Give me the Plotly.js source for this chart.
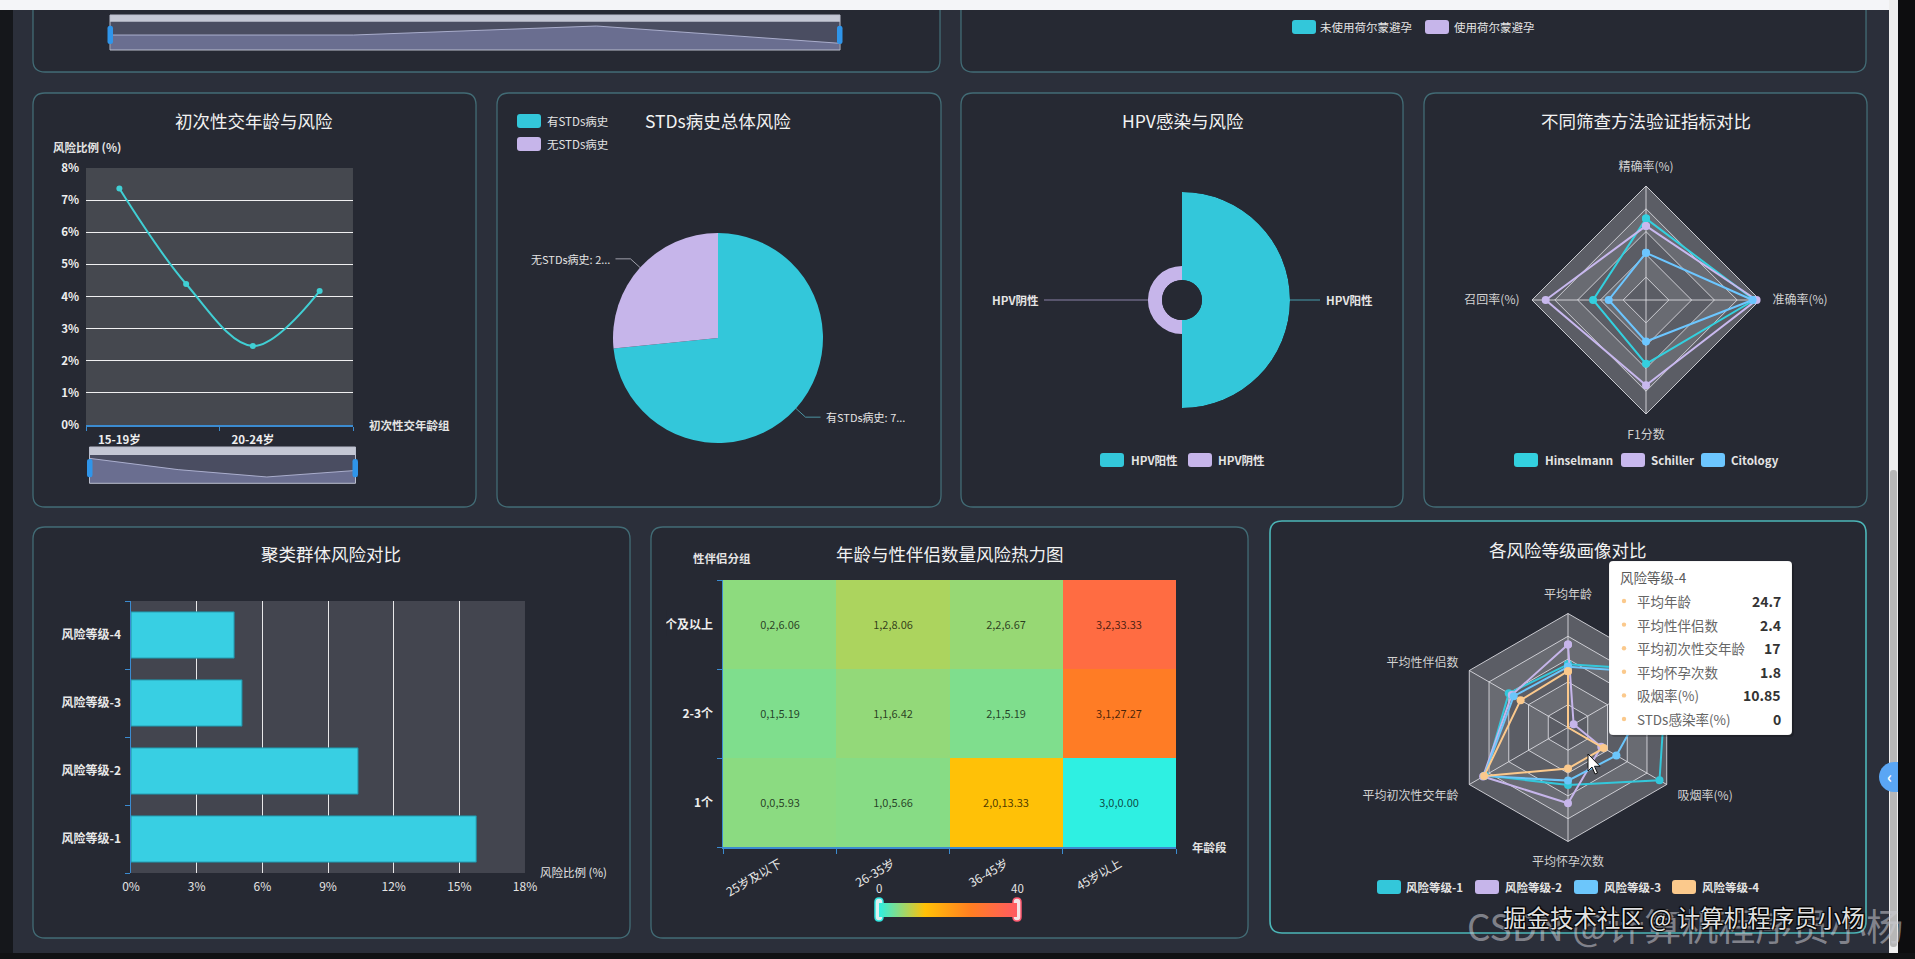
<!DOCTYPE html>
<html>
<head>
<meta charset="utf-8">
<script src="https://cdn.plot.ly/plotly-3.0.1.min.js"></script>
<style>
  html, body { margin: 0; padding: 0; background: #2b2f3a; overflow: hidden; }
  #dash { width: 1915px; height: 959px; }
</style>
</head>
<body>
<div id="dash"></div>
<script>
// ---------------- data ----------------
const firstSexGroups = ['15-19岁', '15岁以下', '20-24岁', '25岁及以上'];
const firstSexRisk = [7.36, 4.39, 2.46, 4.17];

const contraceptionLegend = ['未使用荷尔蒙避孕', '使用荷尔蒙避孕'];
const contraceptionOverview = [3.0, 3.0, 4.8, 1.35];

const stdsLabels = ['有STDs病史', '无STDs病史'];
const stdsShare = [73.4, 26.6];

const hpvLabels = ['HPV阳性', 'HPV阴性'];
const hpvRisk = [25.0, 4.0];

const screenMetrics = ['精确率(%)', '召回率(%)', 'F1分数', '准确率(%)'];
const screenMethods = ['Hinselmann', 'Schiller', 'Citology'];
const hinselmannScores = [71.4, 46.4, 56.0, 95.0];
const schillerScores = [65.0, 88.0, 74.8, 97.0];
const citologyScores = [41.4, 32.7, 36.4, 93.5];

const clusterLevels = ['风险等级-1', '风险等级-2', '风险等级-3', '风险等级-4'];
const clusterRisk = [15.77, 10.37, 5.07, 4.71];

const ageGroups = ['25岁及以下', '26-35岁', '36-45岁', '45岁以上'];
const partnerGroups = ['1个', '2-3个', '3个及以上'];
const riskOnePartner = [5.93, 5.66, 13.33, 0.00];
const riskTwoThreePartners = [5.19, 6.42, 5.19, 27.27];
const riskThreePlusPartners = [6.06, 8.06, 6.67, 33.33];

const profileAxes = ['平均年龄', '平均性伴侣数', '平均初次性交年龄', '平均怀孕次数', '吸烟率(%)', 'STDs感染率(%)'];
const profileMax = [50, 5, 20, 5, 30, 100];
const level1Profile = [27.7, 3.0, 16.8, 2.52, 27.8, 100];
const level2Profile = [36.4, 2.85, 17.2, 3.32, 10.1, 5.7];
const level3Profile = [26.6, 2.75, 17.0, 2.33, 14.7, 95];
const level4Profile = [24.7, 2.4, 17, 1.8, 10.85, 0];

// ---------------- helpers ----------------
const FONT = '"Noto Sans CJK SC", "Noto Sans", sans-serif';
const W = 1915, H = 959;
const fx = x => x / W;
const fy = y => 1 - y / H;
const xDom = (a, b) => [a / W, b / W];
const yDom = (top, bottom) => [1 - bottom / H, 1 - top / H];
const pt = (x, y) => fx(x).toFixed(6) + ',' + fy(y).toFixed(6);

const TEAL = '#33c7da', PURPLE = '#c6b5ea', SKY = '#6cc6fb', PEACH = '#fbc98c';
const AXIS_BLUE = '#3b8bd0';

const shapes = [];
const annotations = [];
const traces = [];

function rrPath(x0, y0, x1, y1, r) {
  return 'M' + pt(x0 + r, y0) + ' L' + pt(x1 - r, y0) + ' Q' + pt(x1, y0) + ' ' + pt(x1, y0 + r) +
    ' L' + pt(x1, y1 - r) + ' Q' + pt(x1, y1) + ' ' + pt(x1 - r, y1) +
    ' L' + pt(x0 + r, y1) + ' Q' + pt(x0, y1) + ' ' + pt(x0, y1 - r) +
    ' L' + pt(x0, y0 + r) + ' Q' + pt(x0, y0) + ' ' + pt(x0 + r, y0) + ' Z';
}
function box(x0, y0, x1, y1, r, fill, stroke, lw, layer) {
  shapes.push({
    type: 'path', xref: 'paper', yref: 'paper', path: rrPath(x0, y0, x1, y1, r),
    fillcolor: fill, line: { color: stroke || 'rgba(0,0,0,0)', width: lw || 0 }, layer: layer || 'below'
  });
}
function polyline(points, color, width, layer) {
  shapes.push({
    type: 'path', xref: 'paper', yref: 'paper',
    path: 'M' + points.map(p => pt(p[0], p[1])).join(' L'),
    fillcolor: 'rgba(0,0,0,0)', line: { color, width }, layer: layer || 'below'
  });
}
function dot(x, y, r, color, layer) {
  shapes.push({
    type: 'circle', xref: 'paper', yref: 'paper', x0: fx(x - r), x1: fx(x + r), y0: fy(y + r), y1: fy(y - r),
    fillcolor: color, line: { width: 0 }, layer: layer || 'above'
  });
}
function text(x, y, s, o) {
  o = o || {};
  const font = { family: FONT, size: o.size || 12, color: o.color || '#e4e4e4', weight: o.weight || 400 };
  if (o.shadow) font.shadow = o.shadow;
  annotations.push({
    xref: 'paper', yref: 'paper', x: fx(x), y: fy(y), text: s, showarrow: false,
    xanchor: o.anchor || 'center', yanchor: 'middle', font, borderpad: 0
  });
}
function title(x, y, s) { text(x, y, s, { size: 17.5, color: '#f2f2f2' }); }
function legendIcon(x0, yc, color) { box(x0, yc - 7, x0 + 24, yc + 7, 3, color, null, 0, 'below'); }

// ---------------- page frame ----------------
const PANEL_FILL = '#262933';
const PANEL_LINE = 'rgba(88,160,170,0.55)';
[
  [33, -30, 940, 72], [961, -30, 1866, 72],
  [33, 93, 476, 507], [497, 93, 941, 507], [961, 93, 1403, 507], [1424, 93, 1867, 507],
  [33, 527, 630, 938], [651, 527, 1248, 938]
].forEach(p => box(p[0], p[1], p[2], p[3], 12, PANEL_FILL, PANEL_LINE, 1.3));
box(1270, 521, 1866, 933, 12, PANEL_FILL, '#4cb6b8', 1.6);

// ---------------- top strip: overview slider + legend ----------------
function overviewSlider(x0, x1, yTop, yBar, yBottom) {
  box(x0, yTop, x1, yBottom, 0, '#4a4d61', null, 0, 'below');
  box(x0, yTop, x1, yBar, 0, '#c4c7d4', null, 0, 'above');
  shapes.push({ type: 'rect', xref: 'paper', yref: 'paper', x0: fx(x0), x1: fx(x1), y0: fy(yBottom), y1: fy(yTop),
    fillcolor: 'rgba(0,0,0,0)', line: { color: '#b9bdcc', width: 1 }, layer: 'above' });
  const hTop = yBar + 4, hBot = yBottom - 6;
  box(x0 - 2.5, hTop, x0 + 3, hBot, 2.5, '#2f95ea', null, 0, 'above');
  box(x1 - 3, hTop, x1 + 2.5, hBot, 2.5, '#2f95ea', null, 0, 'above');
}
overviewSlider(110, 840, 15, 21.7, 50);
traces.push({
  type: 'scatter', xaxis: 'x3', yaxis: 'y3', x: contraceptionOverview.map((_, i) => i), y: contraceptionOverview,
  mode: 'lines', line: { color: 'rgba(190,194,225,0.8)', width: 1 }, fill: 'tozeroy',
  fillcolor: 'rgba(118,122,160,0.75)', hoverinfo: 'skip'
});
legendIcon(1292, 27, TEAL);
text(1319, 27, contraceptionLegend[0], { anchor: 'left', size: 11.5 });
legendIcon(1425, 27, PURPLE);
text(1453, 27, contraceptionLegend[1], { anchor: 'left', size: 11.5 });

// ---------------- panel 1: line chart ----------------
title(254, 120, '初次性交年龄与风险');
box(86, 168, 353, 425, 0, '#45484f', null, 0, 'below');
text(52, 147, '风险比例 (%)', { anchor: 'left', size: 11.5, weight: 700 });
text(368, 425, '初次性交年龄组', { anchor: 'left', size: 11.5, weight: 700 });
const firstSexIdx = firstSexGroups.map((_, i) => i);
traces.push({
  type: 'scatter', xaxis: 'x', yaxis: 'y', x: firstSexIdx, y: firstSexRisk, mode: 'lines+markers',
  line: { shape: 'spline', smoothing: 1, color: '#40cfd4', width: 2 },
  marker: { size: 6, color: '#40cfd4' }, hoverinfo: 'skip'
});
overviewSlider(89.5, 355.5, 447, 455, 483.3);
traces.push({
  type: 'scatter', xaxis: 'x2', yaxis: 'y2', x: firstSexIdx, y: firstSexRisk, mode: 'lines',
  line: { color: 'rgba(190,194,225,0.8)', width: 1 }, fill: 'tozeroy',
  fillcolor: 'rgba(118,122,160,0.75)', hoverinfo: 'skip'
});

// ---------------- panel 2: pie ----------------
title(718, 120, 'STDs病史总体风险');
const stdsColors = [TEAL, PURPLE];
stdsLabels.forEach((name, i) => {
  legendIcon(517, 121 + i * 23, stdsColors[i]);
  text(546, 121 + i * 23, name, { anchor: 'left', size: 11.5 });
});
const PIE = { cx: 718, cy: 338, r: 105 };
traces.push({
  type: 'pie', labels: stdsLabels, values: stdsShare, sort: false, direction: 'clockwise', rotation: 0,
  marker: { colors: stdsColors, line: { width: 0 } }, textinfo: 'none', hoverinfo: 'skip',
  domain: { x: xDom(PIE.cx - PIE.r, PIE.cx + PIE.r), y: yDom(PIE.cy - PIE.r, PIE.cy + PIE.r) }
});
(function pieLabels() {
  const total = stdsShare.reduce((a, b) => a + b, 0);
  let start = 90;
  stdsLabels.forEach((name, i) => {
    const sweep = stdsShare[i] / total * 360;
    const mid = (start - sweep / 2) * Math.PI / 180;
    start -= sweep;
    const ex = PIE.cx + PIE.r * Math.cos(mid), ey = PIE.cy - PIE.r * Math.sin(mid);
    const bx = PIE.cx + (PIE.r + 13) * Math.cos(mid), by = PIE.cy - (PIE.r + 13) * Math.sin(mid);
    const dir = Math.cos(mid) >= 0 ? 1 : -1;
    const tx = bx + dir * 15;
    polyline([[ex, ey], [bx, by], [tx, by]], dir > 0 ? 'rgba(80,160,175,0.9)' : 'rgba(190,190,200,0.8)', 1);
    text(tx + dir * 4, by, name + ': ' + String(stdsShare[i]).charAt(0) + '...',
      { anchor: dir > 0 ? 'left' : 'right', size: 11 });
  });
})();

// ---------------- panel 3: HPV rose ----------------
title(1183, 120, 'HPV感染与风险');
const ROSE = { cx: 1182, cy: 300, r: 108, hole: 20 };
traces.push({
  type: 'barpolar', subplot: 'polar', r: hpvRisk, theta: [0, 180], width: [180, 180],
  marker: { color: [TEAL, PURPLE], line: { width: 0 } }, hoverinfo: 'skip'
});
(function roseLabels() {
  const vmax = Math.max(...hpvRisk);
  const outer = hpvRisk.map(v => ROSE.hole + v / vmax * (ROSE.r - ROSE.hole));
  polyline([[ROSE.cx + outer[0], ROSE.cy], [1320, ROSE.cy]], 'rgba(70,150,165,0.9)', 1.2);
  text(1325, ROSE.cy, hpvLabels[0], { anchor: 'left', size: 11.5, weight: 700 });
  polyline([[ROSE.cx - outer[1], ROSE.cy], [1044, ROSE.cy]], 'rgba(150,140,180,0.9)', 1.2);
  text(1040, ROSE.cy, hpvLabels[1], { anchor: 'right', size: 11.5, weight: 700 });
})();
legendIcon(1100, 460, TEAL);
text(1130, 460, hpvLabels[0], { anchor: 'left', size: 11.5, weight: 700 });
legendIcon(1188, 460, PURPLE);
text(1217, 460, hpvLabels[1], { anchor: 'left', size: 11.5, weight: 700 });

// ---------------- radar helper ----------------
const RINGS = 5;
function radarGrid(subplot, axes, bandA, bandB) {
  const closed = axes.concat([axes[0]]);
  for (let k = RINGS; k >= 1; k--) {
    traces.push({
      type: 'scatterpolar', subplot, theta: closed, r: closed.map(() => k / RINGS), mode: 'lines',
      fill: 'toself', fillcolor: k % 2 ? bandA : bandB, line: { color: 'rgba(225,225,230,0.85)', width: 1 },
      hoverinfo: 'skip'
    });
  }
  const th = [], rr = [];
  axes.forEach(a => { th.push(a, a, a); rr.push(0, 1, null); });
  traces.push({ type: 'scatterpolar', subplot, theta: th, r: rr, mode: 'lines',
    line: { color: 'rgba(225,225,230,0.85)', width: 1 }, hoverinfo: 'skip' });
}
function radarSeries(subplot, axes, values, maxes, color) {
  const closed = axes.concat([axes[0]]);
  const r = values.map((v, i) => v / maxes[i]);
  traces.push({
    type: 'scatterpolar', subplot, theta: closed, r: r.concat([r[0]]), mode: 'lines+markers',
    line: { color, width: 2 }, marker: { size: 8, color }, hoverinfo: 'skip'
  });
}

// ---------------- panel 4: screening radar ----------------
title(1646, 120, '不同筛查方法验证指标对比');
radarGrid('polar2', screenMetrics, '#5b5d65', '#696b72');
const screenColors = ['#33d0df', '#c8b8ee', '#6cc6ff'];
const screenMax = screenMetrics.map(() => 100);
[hinselmannScores, schillerScores, citologyScores].forEach((s, i) =>
  radarSeries('polar2', screenMetrics, s, screenMax, screenColors[i]));
[[1514, 1544], [1621, 1650], [1701, 1730]].forEach((p, i) => {
  legendIcon(p[0], 460, screenColors[i]);
  text(p[1], 460, screenMethods[i], { anchor: 'left', size: 11.5, weight: 700 });
});

// ---------------- panel 5: cluster bars ----------------
title(331, 553, '聚类群体风险对比');
box(131, 601, 525, 873, 0, '#43454f', null, 0, 'below');
traces.push({
  type: 'bar', orientation: 'h', xaxis: 'x4', yaxis: 'y4', y: clusterLevels.map((_, i) => i), x: clusterRisk,
  width: 0.68, marker: { color: '#38cfe3', line: { color: '#2191a6', width: 1 } }, hoverinfo: 'skip'
});
text(539, 872, '风险比例 (%)', { anchor: 'left', size: 11.5 });

// ---------------- panel 6: heatmap ----------------
title(950, 553, '年龄与性伴侣数量风险热力图');
text(722, 558, '性伴侣分组', { size: 11.5, weight: 700 });
text(1191, 847, '年龄段', { anchor: 'left', size: 11.5, weight: 700 });
const heatScale = [[0, '#2ef0e2'], [1 / 3, '#ffc107'], [2 / 3, '#ff7e22'], [1, '#ff5a62']];
const riskGrid = [riskOnePartner, riskTwoThreePartners, riskThreePlusPartners];
// each cell reads "column index, row index, risk"
const cellText = riskGrid.map((row, yi) => row.map((v, xi) => xi + ',' + yi + ',' + v.toFixed(2)));
traces.push({
  type: 'heatmap', xaxis: 'x5', yaxis: 'y5',
  x: ageGroups.map((_, i) => i), y: partnerGroups.map((_, i) => i),
  z: riskGrid, text: cellText,
  zmin: 0, zmax: 40, colorscale: heatScale, xgap: 0, ygap: 0,
  texttemplate: '%{text}', textfont: { family: FONT, size: 11, color: 'rgba(0,0,0,0.72)' },
  hoverinfo: 'skip',
  colorbar: {
    orientation: 'h', x: fx(948), xanchor: 'center', y: fy(909.5), yanchor: 'middle',
    len: 138, lenmode: 'pixels', thickness: 14, thicknessmode: 'pixels', outlinewidth: 0,
    showticklabels: false, ticks: '', xpad: 0, ypad: 0
  }
});
box(875, 898, 883, 921, 4, 'rgba(230,252,252,0.95)', '#2ee6e0', 1.5, 'above');
box(1013, 898, 1021, 921, 4, 'rgba(255,236,238,0.95)', '#ff5a70', 1.5, 'above');
text(879, 888, '0', { size: 11.5 });
text(1017, 888, '40', { size: 11.5 });
// clip the row label at the chart canvas edge
shapes.push({ type: 'rect', xref: 'paper', yref: 'paper', x0: fx(652.5), x1: fx(666.3), y0: fy(636), y1: fy(610),
  fillcolor: PANEL_FILL, line: { width: 0 }, layer: 'above' });

// ---------------- panel 7: profile radar ----------------
title(1568, 549, '各风险等级画像对比');
radarGrid('polar3', profileAxes, '#5b5d65', '#696b72');
const levelColors = [TEAL, PURPLE, SKY, PEACH];
[level1Profile, level2Profile, level3Profile, level4Profile].forEach((s, i) =>
  radarSeries('polar3', profileAxes, s, profileMax, levelColors[i]));
[[1377, 1405], [1475, 1504], [1574, 1603], [1672, 1701]].forEach((p, i) => {
  legendIcon(p[0], 887, levelColors[i]);
  text(p[1], 887, clusterLevels[i], { anchor: 'left', size: 11.5, weight: 700 });
});
// hover card for 风险等级-4
box(1611, 563, 1794, 737, 4, 'rgba(0,0,0,0.18)', null, 0, 'above');
box(1609, 561, 1792, 735, 4, '#ffffff', 'rgba(0,0,0,0.08)', 1, 'above');
text(1619, 577, clusterLevels[3], { anchor: 'left', size: 13.5, color: '#5a5a5a' });
profileAxes.forEach((name, i) => {
  const y = 601 + i * 23.6;
  dot(1624, y, 2.2, PEACH, 'above');
  text(1636, y, name, { anchor: 'left', size: 13.5, color: '#666666' });
  text(1782, y, String(level4Profile[i]), { anchor: 'right', size: 14, weight: 700, color: '#333333' });
});
// pointer
(function cursor() {
  const x = 1588, y = 754;
  const pts = [[0, 0], [0, 17], [4, 13], [7, 20], [9.5, 19], [6.5, 12.3], [12, 12.3]];
  shapes.push({ type: 'path', xref: 'paper', yref: 'paper',
    path: 'M' + pts.map(p => pt(x + p[0], y + p[1])).join(' L') + ' Z',
    fillcolor: '#ffffff', line: { color: '#111111', width: 1 }, layer: 'above' });
})();

// ---------------- window chrome ----------------
shapes.push({ type: 'rect', xref: 'paper', yref: 'paper', x0: 0, x1: fx(1890), y0: fy(10), y1: 1,
  fillcolor: '#f4f5f8', line: { width: 0 }, layer: 'above' });
shapes.push({ type: 'rect', xref: 'paper', yref: 'paper', x0: 0, x1: fx(13), y0: 0, y1: fy(10),
  fillcolor: '#15171b', line: { width: 0 }, layer: 'above' });
shapes.push({ type: 'rect', xref: 'paper', yref: 'paper', x0: fx(1889), x1: fx(1898), y0: 0, y1: 1,
  fillcolor: '#eeeeee', line: { width: 0 }, layer: 'above' });
box(1890, 470, 1897, 947, 3, '#b7b7b7', null, 0, 'above');
shapes.push({ type: 'rect', xref: 'paper', yref: 'paper', x0: fx(1898), x1: 1, y0: 0, y1: 1,
  fillcolor: '#0d0d0f', line: { width: 0 }, layer: 'above' });
shapes.push({ type: 'rect', xref: 'paper', yref: 'paper', x0: 0, x1: 1, y0: 0, y1: fy(953),
  fillcolor: '#111214', line: { width: 0 }, layer: 'above' });
shapes.push({ type: 'path', xref: 'paper', yref: 'paper',
  path: 'M' + pt(1898, 762) + ' L' + pt(1894, 762) + ' C' + pt(1885.7, 762) + ' ' + pt(1879, 768.7) + ' ' + pt(1879, 777) +
    ' C' + pt(1879, 785.3) + ' ' + pt(1885.7, 792) + ' ' + pt(1894, 792) + ' L' + pt(1898, 792) + ' Z',
  fillcolor: '#5aa6f4', line: { width: 0 }, layer: 'above' });
text(1889, 776, '‹', { size: 16, color: '#ffffff', weight: 700 });

// watermark
text(1466, 925, 'CSDN @计算机程序员小杨', { anchor: 'left', size: 37, color: 'rgba(205,205,212,0.55)' });
text(1502, 917, '掘金技术社区 @ 计算机程序员小杨', { anchor: 'left', size: 23.5, color: 'rgba(248,248,248,0.92)',
  shadow: '1px 1px 1px #000, -1px -1px 1px #000, 1px -1px 1px #000, -1px 1px 1px #000' });

// ---------------- layout ----------------
const hiddenAxis = { visible: false, fixedrange: true };
const layout = {
  width: W, height: H, margin: { l: 0, r: 0, t: 0, b: 0 },
  paper_bgcolor: '#2b2f3a', plot_bgcolor: 'rgba(0,0,0,0)', showlegend: false,
  font: { family: FONT, color: '#e4e4e4' },
  xaxis: {
    domain: xDom(86, 353), anchor: 'y', range: [-0.5, 3.5],
    tickmode: 'array', tickvals: firstSexIdx.filter(i => i % 2 === 0),
    ticktext: firstSexGroups.filter((_, i) => i % 2 === 0),
    showgrid: false, zeroline: false, showline: true, linecolor: AXIS_BLUE, linewidth: 1.5, ticks: '',
    ticklabelstandoff: 4, tickfont: { family: FONT, size: 11.5, color: '#eeeeee', weight: 700 },
    minor: { tickmode: 'array', tickvals: [-0.5, 1.5, 3.5], ticks: 'outside', ticklen: 4, tickcolor: AXIS_BLUE, tickwidth: 1, showgrid: false }
  },
  yaxis: {
    domain: yDom(168, 425), anchor: 'x', range: [0, 8], dtick: 1, ticksuffix: '%',
    gridcolor: 'rgba(255,255,255,0.92)', gridwidth: 1, zeroline: false, showline: false, ticks: '',
    ticklabelstandoff: 6, tickfont: { family: FONT, size: 11.5, color: '#eeeeee', weight: 700 }
  },
  xaxis2: Object.assign({ domain: xDom(89.5, 355.5), anchor: 'y2', range: [0, 3] }, hiddenAxis),
  yaxis2: Object.assign({ domain: yDom(455, 483.3), anchor: 'x2', range: [0.79, 8.24] }, hiddenAxis),
  xaxis3: Object.assign({ domain: xDom(110.5, 839.5), anchor: 'y3', range: [0, 3] }, hiddenAxis),
  yaxis3: Object.assign({ domain: yDom(21.7, 50), anchor: 'x3', range: [0, 5.66] }, hiddenAxis),
  xaxis4: {
    domain: xDom(131, 525), anchor: 'y4', range: [0, 18], dtick: 3, ticksuffix: '%',
    gridcolor: 'rgba(255,255,255,0.88)', gridwidth: 1, zeroline: false, showline: false, ticks: '',
    ticklabelstandoff: 5, tickfont: { family: FONT, size: 12, color: '#e4e4e4' }
  },
  yaxis4: {
    domain: yDom(601, 873), anchor: 'x4', range: [-0.5, 3.5], tickmode: 'array',
    tickvals: clusterLevels.map((_, i) => i), ticktext: clusterLevels,
    showgrid: false, zeroline: false, showline: true, linecolor: AXIS_BLUE, linewidth: 1.5, ticks: '',
    ticklabelstandoff: 6, tickfont: { family: FONT, size: 12, color: '#e8e8e8', weight: 700 },
    minor: { tickmode: 'array', tickvals: [-0.5, 0.5, 1.5, 2.5, 3.5], ticks: 'outside', ticklen: 5, tickcolor: AXIS_BLUE, tickwidth: 1, showgrid: false }
  },
  xaxis5: {
    domain: xDom(723, 1176), anchor: 'y5', range: [-0.5, 3.5], tickmode: 'array',
    tickvals: ageGroups.map((_, i) => i), ticktext: ageGroups, tickangle: -30,
    showgrid: false, zeroline: false, showline: true, linecolor: AXIS_BLUE, linewidth: 1.5, ticks: '',
    ticklabelstandoff: 4, tickfont: { family: FONT, size: 12, color: '#e8e8e8' },
    minor: { tickmode: 'array', tickvals: [-0.5, 0.5, 1.5, 2.5, 3.5], ticks: 'outside', ticklen: 5, tickcolor: AXIS_BLUE, tickwidth: 1, showgrid: false }
  },
  yaxis5: {
    domain: yDom(580, 847), anchor: 'x5', range: [-0.5, 2.5], tickmode: 'array',
    tickvals: partnerGroups.map((_, i) => i), ticktext: partnerGroups,
    showgrid: false, zeroline: false, showline: true, linecolor: AXIS_BLUE, linewidth: 1.5, ticks: '',
    ticklabelstandoff: 6, tickfont: { family: FONT, size: 12, color: '#eeeeee', weight: 700 },
    minor: { tickmode: 'array', tickvals: [-0.5, 0.5, 1.5, 2.5], ticks: 'outside', ticklen: 5, tickcolor: AXIS_BLUE, tickwidth: 1, showgrid: false }
  },
  polar: {
    domain: { x: xDom(ROSE.cx - ROSE.r, ROSE.cx + ROSE.r), y: yDom(ROSE.cy - ROSE.r, ROSE.cy + ROSE.r) },
    hole: ROSE.hole / ROSE.r, bgcolor: 'rgba(0,0,0,0)',
    radialaxis: { visible: false, range: [0, Math.max(...hpvRisk)] },
    angularaxis: { visible: false, rotation: 0, direction: 'counterclockwise' }
  },
  polar2: {
    domain: { x: xDom(1520, 1772), y: yDom(174, 426) }, gridshape: 'linear', bgcolor: 'rgba(0,0,0,0)',
    radialaxis: { range: [0, 126 / 114], showline: false, showgrid: false, showticklabels: false, ticks: '' },
    angularaxis: { type: 'category', rotation: 90, direction: 'counterclockwise', showline: false, showgrid: false,
      ticks: '', categoryorder: 'array', categoryarray: screenMetrics,
      tickfont: { family: FONT, size: 12, color: '#d2d2d2' } }
  },
  polar3: {
    domain: { x: xDom(1442, 1694), y: yDom(601.5, 853.5) }, gridshape: 'linear', bgcolor: 'rgba(0,0,0,0)',
    radialaxis: { range: [0, 126 / 114], showline: false, showgrid: false, showticklabels: false, ticks: '' },
    angularaxis: { type: 'category', rotation: 90, direction: 'counterclockwise', showline: false, showgrid: false,
      ticks: '', categoryorder: 'array', categoryarray: profileAxes,
      tickfont: { family: FONT, size: 12, color: '#d2d2d2' } }
  },
  shapes, annotations
};

Plotly.newPlot('dash', traces, layout, { staticPlot: true, displayModeBar: false });
</script>
</body>
</html>
